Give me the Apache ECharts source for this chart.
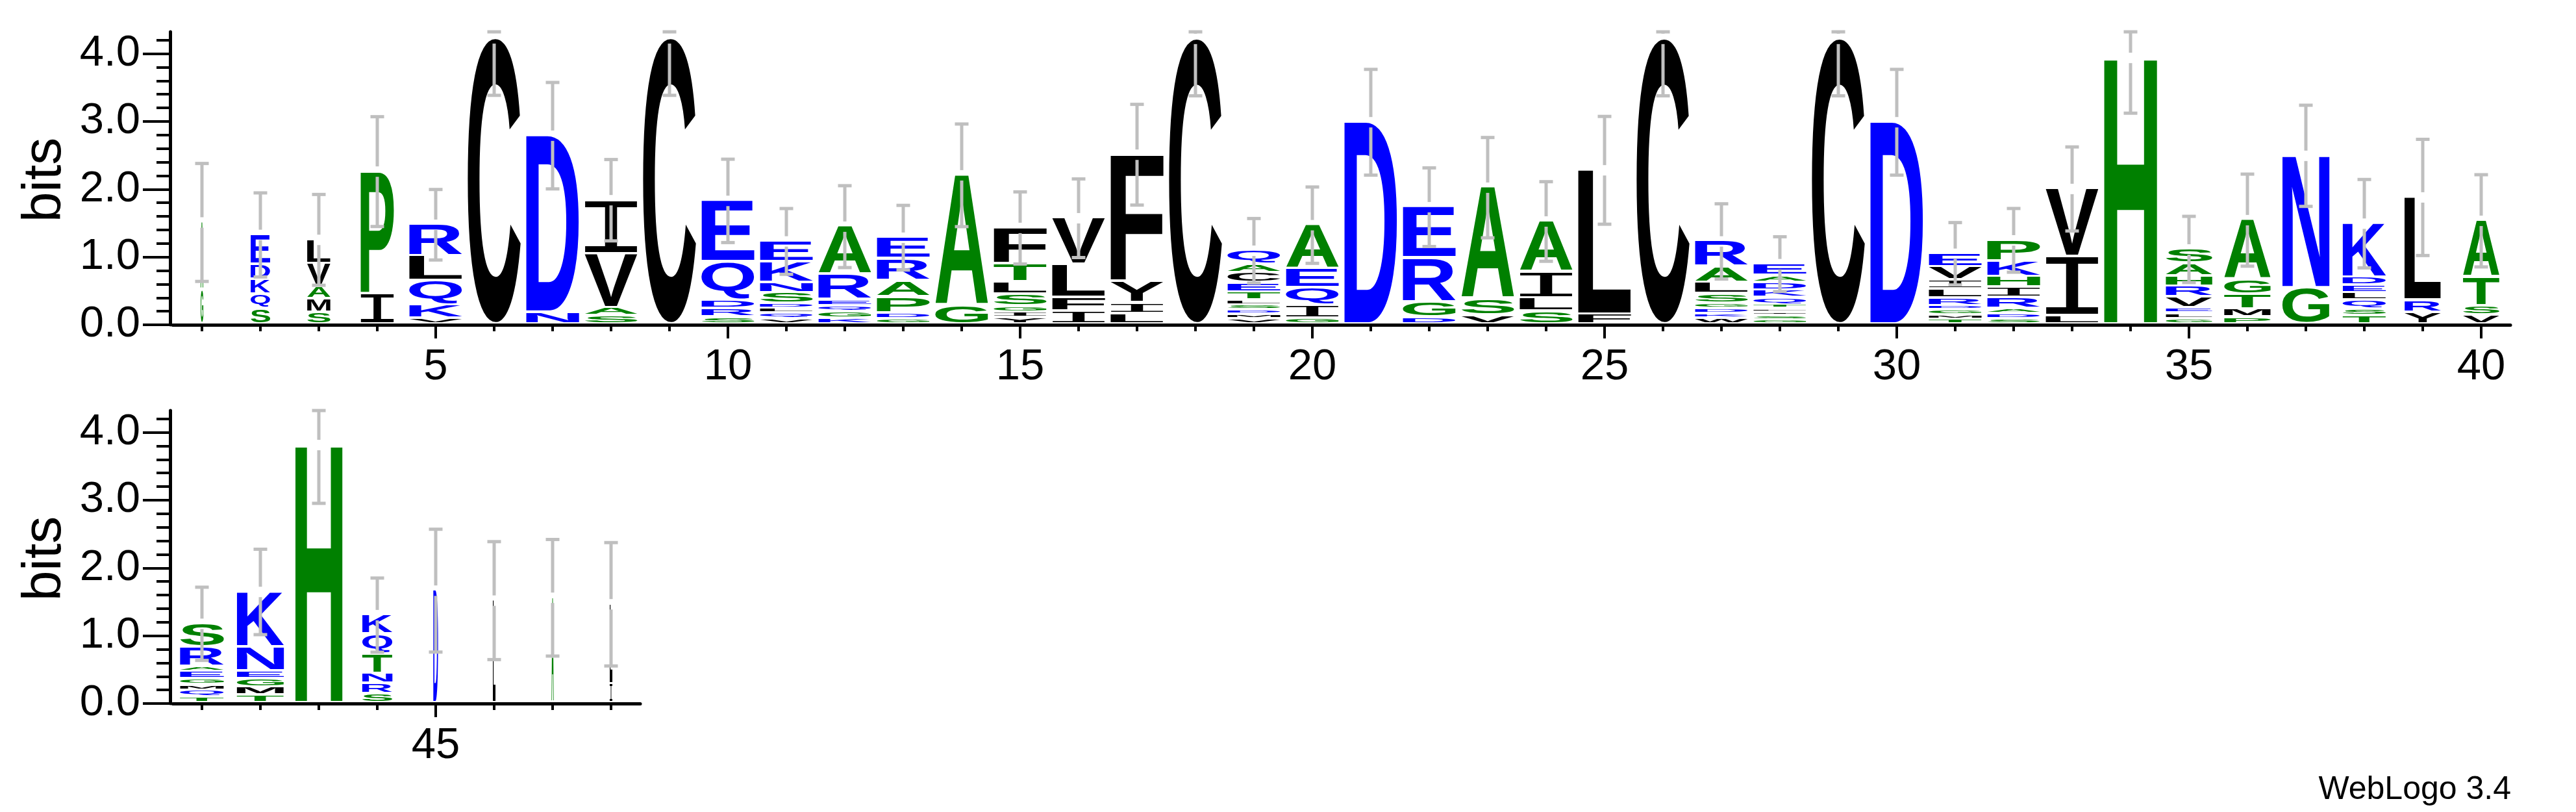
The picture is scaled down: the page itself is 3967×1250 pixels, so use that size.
<!DOCTYPE html>
<html>
<head>
<meta charset="utf-8">
<script src="https://cdn.jsdelivr.net/npm/echarts@6/dist/echarts.min.js"></script>
<style>
html,body{margin:0;padding:0;background:#ffffff;}
#chart{width:3967px;height:1250px;}
</style>
</head>
<body>
<div id="chart"></div>
<script>
// ---------------- DATA ----------------
const positions = [1,2,3,4,5,6,7,8,9,10,11,12,13,14,15,16,17,18,19,20,
                   21,22,23,24,25,26,27,28,29,30,31,32,33,34,35,36,37,38,39,40,
                   41,42,43,44,45,46,47,48];

// letters of each stack, bottom -> top
const stackLetters = [
  'GA','SQKDE','SMAVL','IP','VKQLR','C','ND','SAVI','C','SRDQE',
  'VQLDSNKE','KGQERA','GDPARE','GA','YIGSLTF','IFLV','LIYF','C','VMDSLTECAQ','GIQEA',
  'D','DGRE','VSA','SLIA','FL','C','WKDGSLAR','GSILTQKDAE','C','D',
  'TMGDRLIVE','SDARIHKP','LIV','H','GLEVRHAS','PMTGA','GN','TSQLEDK','YRL','VSTA',
  'TQMGEARS','TMGENK','H','SRNTQK','D','L','A','IL'
];

// letter heights in bits, bottom -> top
const stackHeights = [
  [0.51,1.00],
  [0.23,0.208,0.224,0.223,0.441],
  [0.176,0.192,0.185,0.342,0.358],
  [0.447,1.813],
  [0.086,0.195,0.358,0.368,0.469],
  [4.225],
  [0.176,2.614],
  [0.121,0.119,0.799,0.799],
  [4.225],
  [0.102,0.128,0.121,0.569,0.908],
  [0.08,0.08,0.07,0.074,0.159,0.151,0.306,0.31],
  [0.086,0.096,0.09,0.086,0.377,0.713],
  [0.08,0.086,0.234,0.239,0.326,0.32],
  [0.272,1.933],
  [0.096,0.08,0.089,0.176,0.182,0.272,0.534],
  [0.192,0.198,0.495,0.687],
  [0.153,0.16,0.32,1.876],
  [4.218],
  [0.08,0.064,0.064,0.073,0.071,0.121,0.141,0.146,0.128,0.205],
  [0.086,0.195,0.256,0.278,0.655],
  [2.988],
  [0.102,0.224,0.649,0.76],
  [0.128,0.24,1.655],
  [0.192,0.192,0.383,0.757],
  [0.144,2.135],
  [4.218],
  [0.086,0.067,0.077,0.08,0.137,0.167,0.233,0.383],
  [0.06,0.061,0.055,0.054,0.058,0.102,0.112,0.115,0.102,0.176],
  [4.218],
  [2.988],
  [0.07,0.064,0.074,0.064,0.112,0.134,0.137,0.192,0.201],
  [0.08,0.073,0.077,0.16,0.153,0.16,0.23,0.313],
  [0.121,0.876,1.007],
  [3.937],
  [0.08,0.08,0.08,0.16,0.156,0.153,0.186,0.217],
  [0.105,0.119,0.217,0.214,0.889],
  [0.534,1.959],
  [0.128,0.096,0.128,0.111,0.112,0.119,0.798],
  [0.176,0.176,1.527],
  [0.137,0.135,0.422,0.84],
  [0.089,0.096,0.08,0.087,0.105,0.074,0.287,0.358],
  [0.115,0.118,0.119,0.115,0.358,0.821],
  [3.813],
  [0.137,0.151,0.143,0.288,0.297,0.288],
  [1.665],
  [1.518],
  [1.56],
  [0.28,1.184]
];

// relative stack width (fraction of non-gap sequences)
const stackWidths = [
  0.05,0.37,0.44,0.63,1,1,1,1,1,1,
  1,1,1,1,1,1,1,1,1,1,
  1,1,1,1,1,1,1,1,1,1,
  1,1,1,1,0.88,0.88,0.89,0.82,0.69,0.69,
  0.83,0.89,0.89,0.57,0.09,0.05,0.04,0.05
];

// half length of the error bar (bits)
const errorHalf = [
  0.87,0.62,0.67,0.81,0.52,0.84,0.785,0.60,0.84,0.615,
  0.485,0.604,0.477,0.757,0.532,0.58,0.743,0.84,0.475,0.563,
  0.78,0.58,0.74,0.587,0.795,0.84,0.555,0.404,0.84,0.78,
  0.46,0.47,0.62,0.815,0.488,0.679,0.746,0.652,0.857,0.68,
  0.54,0.63,0.86,0.547,0.906,0.87,0.86,0.91
];

const yMajorTicks = [0,1,2,3,4];
const yMinorTicks = [0.2,0.4,0.6,0.8,1.2,1.4,1.6,1.8,2.2,2.4,2.6,2.8,3.2,3.4,3.6,3.8,4.2];
const xMinorTop = [1,2,3,4,5,6,7,8,9,10,11,12,13,14,15,16,17,18,19,20,
                   21,22,23,24,25,26,27,28,29,30,31,32,33,34,35,36,37,38,39,40];
const xMajorTop = [5,10,15,20,25,30,35,40];
const xMinorBottom = [41,42,43,44,45,46,47,48];
const xMajorBottom = [45];
const MAX_BITS = 4.321928; // log2(20)

// ---------------- STYLE ----------------
const FONT_FAMILY = '"Liberation Sans", Arial, Helvetica, sans-serif';
const LETTER_FONT = 'bold 200px "Liberation Sans"';
const SERIF_I_FONT = '200px "Liberation Mono"';
const LETTER_FILL = 0.905;   // part of the pitch a full-width stack uses
const LETTER_PAD = 4;        // px of white under every letter
const ERR_COLOR = '#bfbfbf';
const ERR_CAP = 21, ERR_LW = 5, ERR_GAP = 8;

function colorOf(ch) {
  if ('RKDENQ'.indexOf(ch) >= 0) return '#0000ff';
  if ('SGHTAP'.indexOf(ch) >= 0) return '#008000';
  return '#000000';
}
function fontOf(ch) { return ch === 'I' ? SERIF_I_FONT : LETTER_FONT; }

// glyph ink metrics (relative to left / middle baseline)
const mctx = document.createElement('canvas').getContext('2d');
const metricCache = {};
function metric(ch) {
  if (!metricCache[ch]) {
    mctx.font = fontOf(ch);
    mctx.textBaseline = 'middle';
    mctx.textAlign = 'left';
    const m = mctx.measureText(ch);
    metricCache[ch] = {
      L: m.actualBoundingBoxLeft, R: m.actualBoundingBoxRight,
      A: m.actualBoundingBoxAscent, D: m.actualBoundingBoxDescent
    };
  }
  return metricCache[ch];
}

function buildRecords(from, to) {
  const recs = [];
  for (let i = from; i < to; i++) {
    let base = 0;
    const letters = stackLetters[i], hs = stackHeights[i];
    for (let k = 0; k < letters.length; k++) {
      recs.push({ value: [positions[i], base, base + hs[k], stackWidths[i]], letter: letters[k] });
      base += hs[k];
    }
  }
  return recs;
}
function buildErrors(from, to) {
  const out = [];
  for (let i = from; i < to; i++) {
    const total = stackHeights[i].reduce((a, b) => a + b, 0);
    out.push([positions[i], total, errorHalf[i]]);
  }
  return out;
}

function letterRenderer(recs) {
  return function (params, api) {
    const r = recs[params.dataIndex];
    const pos = api.value(0), y0 = api.value(1), y1 = api.value(2), w = api.value(3);
    const pitch = api.size([1, 0])[0];
    const boxW = pitch * LETTER_FILL * w;
    const cx = api.coord([pos, 0])[0];
    const yTop = api.coord([pos, y1])[1];
    const yBot = api.coord([pos, y0])[1] - LETTER_PAD;
    const h = yBot - yTop;
    if (h < 0.6) return null;
    const m = metric(r.letter);
    const sx = boxW / (m.L + m.R);
    const sy = h / (m.A + m.D);
    return {
      type: 'text',
      silent: true,
      x: cx - boxW / 2 + sx * m.L,
      y: yTop + sy * m.A,
      scaleX: sx,
      scaleY: sy,
      style: {
        text: r.letter, font: fontOf(r.letter), fill: colorOf(r.letter),
        x: 0, y: 0,
        textAlign: 'left', textVerticalAlign: 'middle',
        align: 'left', verticalAlign: 'middle'
      }
    };
  };
}

function errorRenderer(params, api) {
  const pos = api.value(0), top = api.value(1), err = api.value(2);
  const cx = api.coord([pos, 0])[0];
  const yT = api.coord([pos, top])[1];
  const yU = api.coord([pos, Math.min(top + err, MAX_BITS)])[1];
  const yL = api.coord([pos, Math.max(top - err, 0)])[1];
  const st = { fill: ERR_COLOR };
  const ch = [
    { type: 'rect', shape: { x: cx - ERR_CAP / 2, y: yU - ERR_LW / 2, width: ERR_CAP, height: ERR_LW }, style: st },
    { type: 'rect', shape: { x: cx - ERR_CAP / 2, y: yL - ERR_LW / 2, width: ERR_CAP, height: ERR_LW }, style: st }
  ];
  if (yT - ERR_GAP > yU) ch.push({ type: 'rect', shape: { x: cx - ERR_LW / 2, y: yU, width: ERR_LW, height: yT - ERR_GAP - yU }, style: st });
  if (yL > yT + ERR_GAP) ch.push({ type: 'rect', shape: { x: cx - ERR_LW / 2, y: yT + ERR_GAP, width: ERR_LW, height: yL - yT - ERR_GAP }, style: st });
  return { type: 'group', silent: true, children: ch };
}

const topRecs = buildRecords(0, 40);
const botRecs = buildRecords(40, 48);

function xAxes(gridIndex, min, max, minorVals, majorVals) {
  return [
    {
      type: 'value', gridIndex, min, max, position: 'bottom',
      axisLine: { show: true, onZero: false, lineStyle: { color: '#000', width: 5 } },
      axisTick: { show: true, customValues: minorVals, length: 10, lineStyle: { color: '#000', width: 4 } },
      axisLabel: { show: false },
      splitLine: { show: false }
    },
    {
      type: 'value', gridIndex, min, max, position: 'bottom',
      axisLine: { show: false },
      axisTick: { show: true, customValues: majorVals, length: 21, lineStyle: { color: '#000', width: 4 } },
      axisLabel: { show: true, customValues: majorVals, fontSize: 67, fontFamily: FONT_FAMILY, color: '#000', margin: 32 },
      splitLine: { show: false }
    }
  ];
}
function yAxes(gridIndex) {
  return [
    {
      type: 'value', gridIndex, min: 0, max: MAX_BITS, position: 'left', offset: 4,
      axisLine: { show: true, onZero: false, lineStyle: { color: '#000', width: 5 } },
      axisTick: { show: true, customValues: yMajorTicks, length: 42, lineStyle: { color: '#000', width: 4 } },
      axisLabel: { show: true, customValues: yMajorTicks, formatter: v => Number(v).toFixed(1),
                   fontSize: 67, fontFamily: FONT_FAMILY, color: '#000', margin: 46 },
      splitLine: { show: false }
    },
    {
      type: 'value', gridIndex, min: 0, max: MAX_BITS, position: 'left', offset: 4,
      axisLine: { show: false },
      axisTick: { show: true, customValues: yMinorTicks, length: 21, lineStyle: { color: '#000', width: 4 } },
      axisLabel: { show: false },
      splitLine: { show: false }
    }
  ];
}

const option = {
  animation: false,
  backgroundColor: '#ffffff',
  textStyle: { fontFamily: FONT_FAMILY },
  grid: [
    { left: 266, top: 49, width: 3600, height: 451 },
    { left: 266, top: 632, width: 720, height: 451 }
  ],
  xAxis: [].concat(xAxes(0, 0.5, 40.5, xMinorTop, xMajorTop), xAxes(1, 40.5, 48.5, xMinorBottom, xMajorBottom)),
  yAxis: [].concat(yAxes(0), yAxes(1)),
  graphic: {
    elements: [
      { type: 'text', x: 70, y: 277, rotation: Math.PI / 2, silent: true,
        style: { text: 'bits', font: '84px "Liberation Sans"', fill: '#000',
                 textAlign: 'center', textVerticalAlign: 'middle', align: 'center', verticalAlign: 'middle' } },
      { type: 'text', x: 70, y: 860, rotation: Math.PI / 2, silent: true,
        style: { text: 'bits', font: '84px "Liberation Sans"', fill: '#000',
                 textAlign: 'center', textVerticalAlign: 'middle', align: 'center', verticalAlign: 'middle' } },
      { type: 'text', x: 3867, y: 1216, silent: true,
        style: { text: 'WebLogo 3.4', font: '50px "Liberation Sans"', fill: '#000',
                 textAlign: 'right', textVerticalAlign: 'middle', align: 'right', verticalAlign: 'middle' } }
    ]
  },
  series: [
    { type: 'custom', name: 'letters', xAxisIndex: 0, yAxisIndex: 0, z: 2, silent: true,
      renderItem: letterRenderer(topRecs), data: topRecs.map(r => r.value) },
    { type: 'custom', name: 'errors', xAxisIndex: 0, yAxisIndex: 0, z: 3, silent: true,
      renderItem: errorRenderer, data: buildErrors(0, 40) },
    { type: 'custom', name: 'letters2', xAxisIndex: 2, yAxisIndex: 2, z: 2, silent: true,
      renderItem: letterRenderer(botRecs), data: botRecs.map(r => r.value) },
    { type: 'custom', name: 'errors2', xAxisIndex: 2, yAxisIndex: 2, z: 3, silent: true,
      renderItem: errorRenderer, data: buildErrors(40, 48) }
  ]
};

const chart = echarts.init(document.getElementById('chart'), null, { renderer: 'canvas', width: 3967, height: 1250 });
chart.setOption(option);
</script>
</body>
</html>
